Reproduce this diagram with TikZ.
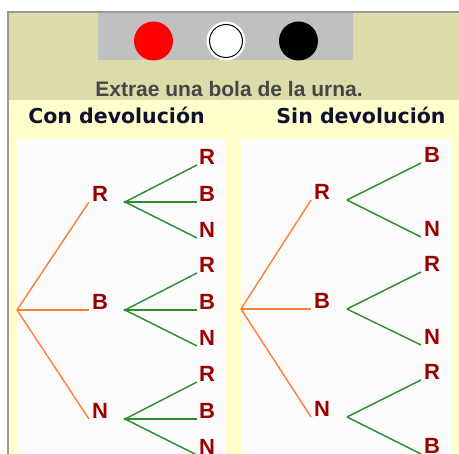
\documentclass[tikz,border=0pt]{standalone}
\usepackage{fontspec}
\setmainfont{Liberation Sans}
\newfontfamily\headfont{DejaVu Sans}
\usetikzlibrary{positioning}
\definecolor{UrnKhaki}{HTML}{DCDCAA}
\definecolor{UrnGray}{HTML}{C0C0C0}
\definecolor{UrnFrame}{HTML}{999999}
\definecolor{UrnPale}{HTML}{FFFFCC}
\definecolor{UrnPanel}{HTML}{FCFCFC}
\definecolor{UrnText}{HTML}{464646}
\definecolor{UrnHead}{HTML}{101030}
\definecolor{UrnRed}{HTML}{990000}
\definecolor{UrnOrange}{HTML}{FF8033}
\definecolor{UrnGreen}{HTML}{2E8B2E}
\tikzset{
  ballred/.style   = {circle, fill=red, minimum size=39pt, inner sep=0pt},
  ballwhite/.style = {circle, fill=white, draw=black, line width=1pt,
                      minimum size=33pt, inner sep=0pt},
  ballblack/.style = {circle, fill=black, minimum size=39pt, inner sep=0pt},
  urnlbl/.style    = {font=\fontsize{21}{21}\selectfont\bfseries, text=UrnText, inner sep=0pt, anchor=base},
  headlbl/.style   = {font=\headfont\fontsize{20.5}{20.5}\selectfont\bfseries, text=UrnHead, inner sep=0pt, anchor=base},
  leaflbl/.style   = {font=\fontsize{22}{22}\selectfont\bfseries, text=UrnRed, inner sep=0pt,
                      anchor=base west, xshift=3pt},
  firstbr/.style   = {UrnOrange, line width=1.4pt},
  secondbr/.style  = {UrnGreen, line width=1.4pt},
}
\begin{document}
\begin{tikzpicture}[x=1pt, y=-1pt]
  \useasboundingbox (0,0) rectangle (459,454);
  % background and panels
  \fill[UrnKhaki] (8,13) rectangle (459,100);
  \fill[UrnPale] (8,100) rectangle (459,454);
  \fill[UrnGray] (98,13) rectangle (353,60);
  \fill[UrnPanel] (17,139) rectangle (226,454);
  \fill[UrnPanel] (241,139) rectangle (452,454);
  \draw[UrnFrame, line width=2pt] (7.5,454) -- (7.5,12) -- (459,12);
  % urn
  \node[ballred] (bRed) at (153.5,41) {};
  \fill[white] (226,41) circle (19.5);
  \node[ballwhite] (bWhite) at (226,41) {};
  \node[ballblack] (bBlack) at (298.5,41) {};
  \node[urnlbl] (urn) at (229,96.5) {Extrae una bola de la urna.};
  \node[headlbl] (con) at (116.5,124) {Con devolución};
  \node[headlbl] (sin) at (361,124) {Sin devolución};

  % con devolucion
  \coordinate (conO) at (17,310);
  \coordinate (conR) at (89,202); \coordinate (conB) at (89,310); \coordinate (conN) at (89,419);
  \node[leaflbl] (conRl) at (conR) {R};
  \node[leaflbl] (conBl) at (conB) {B};
  \node[leaflbl] (conNl) at (conN) {N};
  \draw[firstbr] (conO) -- (conR); \draw[firstbr] (conO) -- (conB); \draw[firstbr] (conO) -- (conN);
  \coordinate (conRv) at (125,202); \coordinate (conBv) at (125,310); \coordinate (conNv) at (125,419);
  \coordinate (conRR) at (197,165); \coordinate (conRB) at (197,202); \coordinate (conRN) at (197,238);
  \coordinate (conBR) at (197,273); \coordinate (conBB) at (197,310); \coordinate (conBN) at (197,346);
  \coordinate (conNR) at (197,382); \coordinate (conNB) at (197,419); \coordinate (conNN) at (197,455);
  \draw[secondbr] (conRv) -- (conRR); \draw[secondbr] (conRv) -- (conRB); \draw[secondbr] (conRv) -- (conRN);
  \draw[secondbr] (conBv) -- (conBR); \draw[secondbr] (conBv) -- (conBB); \draw[secondbr] (conBv) -- (conBN);
  \draw[secondbr] (conNv) -- (conNR); \draw[secondbr] (conNv) -- (conNB); \draw[secondbr] (conNv) -- (conNN);
  \fill[UrnGreen] (conRv) circle (1.7); \fill[UrnGreen] (conBv) circle (1.7); \fill[UrnGreen] (conNv) circle (1.7);
  \node[leaflbl, xshift=-1pt] (conRRl) at (conRR) {R};
  \node[leaflbl, xshift=-1pt] (conRBl) at (conRB) {B};
  \node[leaflbl, xshift=-1pt] (conRNl) at (conRN) {N};
  \node[leaflbl, xshift=-1pt] (conBRl) at (conBR) {R};
  \node[leaflbl, xshift=-1pt] (conBBl) at (conBB) {B};
  \node[leaflbl, xshift=-1pt] (conBNl) at (conBN) {N};
  \node[leaflbl, xshift=-1pt] (conNRl) at (conNR) {R};
  \node[leaflbl, xshift=-1pt] (conNBl) at (conNB) {B};
  \node[leaflbl, xshift=-1pt] (conNNl) at (conNN) {N};

  % sin devolucion
  \coordinate (sinO) at (241,309);
  \coordinate (sinR) at (311,200); \coordinate (sinB) at (311,309); \coordinate (sinN) at (311,417);
  \node[leaflbl] (sinRl) at (sinR) {R};
  \node[leaflbl] (sinBl) at (sinB) {B};
  \node[leaflbl] (sinNl) at (sinN) {N};
  \draw[firstbr] (sinO) -- (sinR); \draw[firstbr] (sinO) -- (sinB); \draw[firstbr] (sinO) -- (sinN);
  \coordinate (sinRv) at (347,200); \coordinate (sinBv) at (347,309); \coordinate (sinNv) at (347,417);
  \coordinate (sinRB) at (421,163); \coordinate (sinRN) at (421,237);
  \coordinate (sinBR) at (421,272); \coordinate (sinBN) at (421,345);
  \coordinate (sinNR) at (421,380); \coordinate (sinNB) at (421,454);
  \draw[secondbr] (sinRv) -- (sinRB); \draw[secondbr] (sinRv) -- (sinRN);
  \draw[secondbr] (sinBv) -- (sinBR); \draw[secondbr] (sinBv) -- (sinBN);
  \draw[secondbr] (sinNv) -- (sinNR); \draw[secondbr] (sinNv) -- (sinNB);
  \node[leaflbl] (sinRBl) at (sinRB) {B};
  \node[leaflbl] (sinRNl) at (sinRN) {N};
  \node[leaflbl] (sinBRl) at (sinBR) {R};
  \node[leaflbl] (sinBNl) at (sinBN) {N};
  \node[leaflbl] (sinNRl) at (sinNR) {R};
  \node[leaflbl] (sinNBl) at (sinNB) {B};
\end{tikzpicture}
\end{document}
